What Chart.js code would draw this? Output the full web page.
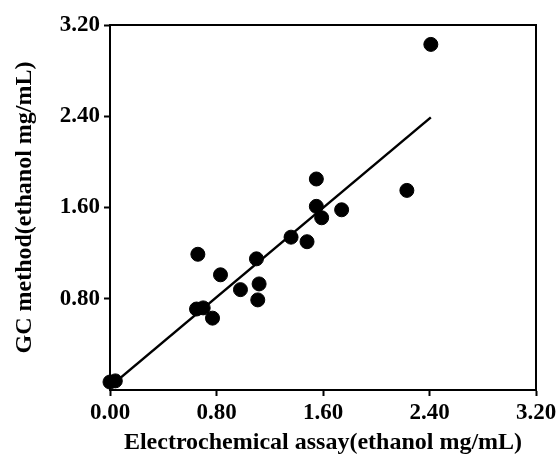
<!DOCTYPE html>
<html lang="en">
<head>
  <meta charset="UTF-8">
  <title>GC vs Electrochemical assay</title>
  <script src="https://cdn.jsdelivr.net/npm/chart.js"></script>
  <style>
    html, body { margin: 0; padding: 0; background: #fff; }
    #wrap { width: 560px; height: 456px; }
  </style>
</head>
<body>
  <div id="wrap"><canvas id="assayChart" width="560" height="456"></canvas></div>

  <script>
    // electrochemical assay (x) vs GC method (y), ethanol mg/mL
    const assayX = [0.00, 0.04, 0.66, 0.83, 0.98, 1.12, 1.11, 1.10, 0.65, 0.70, 0.77,
                    1.36, 1.48, 1.55, 1.55, 1.59, 1.74, 2.41, 2.23];
    const gcY    = [0.07, 0.08, 1.19, 1.01, 0.88, 0.93, 0.79, 1.15, 0.71, 0.72, 0.63,
                    1.34, 1.30, 1.85, 1.61, 1.51, 1.58, 3.03, 1.75];

    // fitted line end points as drawn
    const fitX = [0.00, 2.41];
    const fitY = [0.03, 2.39];

    const xTicks = [0, 0.8, 1.6, 2.4, 3.2];
    const yTicks = [0.8, 1.6, 2.4, 3.2];

    const serif = "'Liberation Serif', 'Times New Roman', serif";

    const points = assayX.map((x, i) => ({ x: x, y: gcY[i] }));
    const fitLine = fitX.map((x, i) => ({ x: x, y: fitY[i] }));

    // top and right sides of the frame
    const frame = {
      id: 'frame',
      afterDraw(chart) {
        const { ctx, chartArea: a } = chart;
        ctx.save();
        ctx.strokeStyle = '#000';
        ctx.lineWidth = 2;
        ctx.beginPath();
        ctx.moveTo(a.left, a.top);
        ctx.lineTo(a.right, a.top);
        ctx.lineTo(a.right, a.bottom);
        ctx.stroke();
        ctx.restore();
      }
    };

    const ctx = document.getElementById('assayChart').getContext('2d');
    new Chart(ctx, {
      type: 'scatter',
      data: {
        datasets: [
          {
            type: 'line',
            data: fitLine,
            borderColor: '#000',
            borderWidth: 2.5,
            pointRadius: 0,
            fill: false,
            order: 2
          },
          {
            data: points,
            backgroundColor: '#000',
            borderColor: '#000',
            pointRadius: 7,
            pointHoverRadius: 7,
            clip: false,
            order: 1
          }
        ]
      },
      plugins: [frame],
      options: {
        responsive: false,
        animation: false,
        layout: { padding: { left: 0, top: 25, right: 24, bottom: 0 } },
        plugins: {
          legend: { display: false },
          tooltip: { enabled: false }
        },
        scales: {
          x: {
            type: 'linear',
            min: 0,
            max: 3.2,
            afterFit: s => { s.height = 66; },
            afterBuildTicks: s => { s.ticks = xTicks.map(v => ({ value: v })); },
            border: { display: true, color: '#000', width: 2 },
            grid: { drawOnChartArea: false, drawTicks: true, tickLength: 6, tickWidth: 2, tickColor: '#000' },
            ticks: {
              color: '#000',
              padding: 3,
              maxRotation: 0,
              font: { family: serif, size: 23, weight: 'bold' },
              callback: v => v.toFixed(2)
            },
            title: {
              display: true,
              text: 'Electrochemical assay(ethanol mg/mL)',
              color: '#000',
              padding: { top: 0, bottom: -1 },
              font: { family: serif, size: 24, weight: 'bold' }
            }
          },
          y: {
            type: 'linear',
            min: 0,
            max: 3.2,
            afterFit: s => { s.width = 110; },
            afterBuildTicks: s => { s.ticks = yTicks.map(v => ({ value: v })); },
            border: { display: true, color: '#000', width: 2 },
            grid: { drawOnChartArea: false, drawTicks: true, tickLength: 6, tickWidth: 2, tickColor: '#000' },
            ticks: {
              color: '#000',
              padding: 4,
              font: { family: serif, size: 23, weight: 'bold' },
              callback: v => v.toFixed(2)
            },
            title: {
              display: true,
              text: 'GC method(ethanol mg/mL)',
              color: '#000',
              padding: { top: 10, bottom: 0 },
              font: { family: serif, size: 24, weight: 'bold' }
            }
          }
        }
      }
    });
  </script>
</body>
</html>
